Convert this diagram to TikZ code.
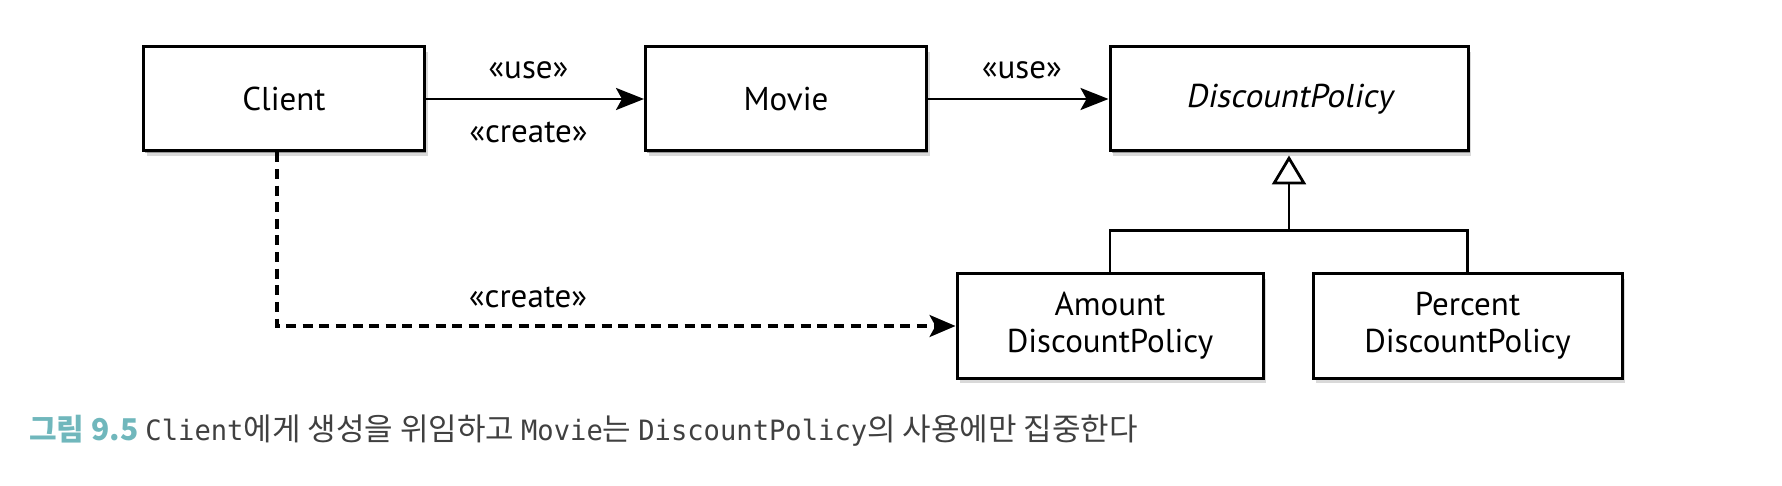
\documentclass[tikz,border=0pt]{standalone}
\usepackage{fontspec}
\setmainfont{PT Sans}
\newfontfamily\slantsans[FakeSlant=0.2]{PT Sans}
\newfontfamily\krfont{Noto Sans CJK KR}
\newfontfamily\capmono[FakeStretch=0.97]{DejaVu Sans Mono}
\usetikzlibrary{arrows.meta,shadows,calc}
\definecolor{capteal}{HTML}{70B7BC}
\definecolor{captext}{HTML}{404040}
\newcommand{\kr}[1]{{\krfont\fontsize{15.5}{17}\selectfont #1}}
\newcommand{\mono}[1]{{\capmono\fontsize{14}{17}\selectfont #1}}
\begin{document}
\begin{tikzpicture}[x=0.5pt,y=-0.5pt,
  umlbox/.style={draw, line width=1.5pt, fill=white, minimum height=52pt,
    align=center, inner sep=0pt, font=\fontsize{16.5}{18.5}\selectfont,
    drop shadow={shadow xshift=0.8pt, shadow yshift=-1.2pt, opacity=0.3, fill=black},
    drop shadow={shadow xshift=1.5pt, shadow yshift=-2.4pt, opacity=0.15, fill=black}},
  lbl/.style={inner sep=0pt, font=\fontsize{16.5}{18.5}\selectfont},
  conn/.style={line width=1.4pt},
  usearrow/.style={conn, -{Stealth[length=14pt, width=11pt, inset=3pt]}},
  dashconn/.style={line width=1.6pt, dash pattern=on 5pt off 3.3pt,
    -{Stealth[length=13pt, width=11pt, inset=3pt]}},
  genarrow/.style={conn, -{Triangle[open, length=14.5pt, width=17pt, fill=white]}}
]
\useasboundingbox (0,0) rectangle (1782,486);

\node[umlbox, minimum width=140.5pt] (client) at (284,99) {Client};
\node[umlbox, minimum width=140.5pt] (movie) at (786,99) {Movie};
\node[umlbox, minimum width=179pt, font=\fontsize{16.5}{18.5}\selectfont\slantsans] (dp) at (1289,99) {DiscountPolicy};
\node[umlbox, minimum width=153pt] (amount) at (1110,326) {Amount\\DiscountPolicy};
\node[umlbox, minimum width=154.5pt] (percent) at (1467.5,326) {Percent\\DiscountPolicy};

\draw[usearrow] (client) -- node[lbl, pos=0.47, yshift=14.5pt] (l1) {«use»}
  node[lbl, pos=0.47, yshift=-16.5pt] (l2) {«create»} (movie);
\draw[usearrow] (movie) -- node[lbl, pos=0.52, yshift=14.5pt] (l3) {«use»} (dp);

\draw[dashconn] ([xshift=-3.5pt]client.south) |- node[lbl, pos=0.685, yshift=14.5pt] (l4) {«create»} (amount.west);

\path (dp.south) ++(0,78) coordinate (j);
\draw[conn] (amount.north) |- (j) -| (percent.north);
\draw[genarrow, shorten >=1.5pt] (j) -- (dp.south);

\node[anchor=base west, inner sep=0pt, text=captext] (cap) at (29,440)
  {{\krfont\fontsize{15}{17}\selectfont\bfseries\color{capteal}그림 9.5}\kr{ }\mono{Client}\kr{에게 생성을 위임하고 }\mono{Movie}\kr{는 }\mono{DiscountPolicy}\kr{의 사용에만 집중한다}};
\end{tikzpicture}
\end{document}
